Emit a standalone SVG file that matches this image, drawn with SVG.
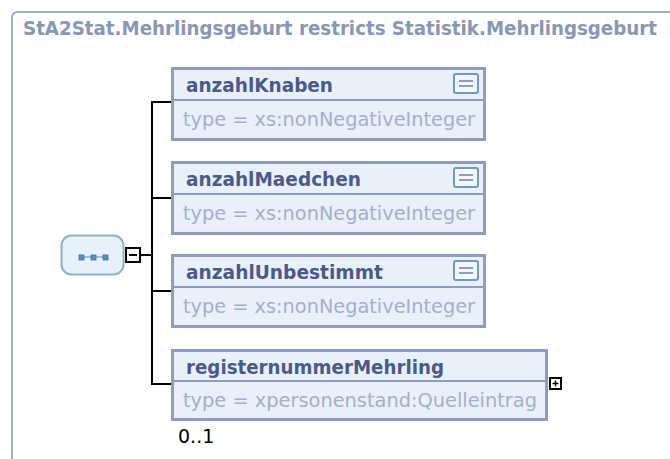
<svg xmlns="http://www.w3.org/2000/svg" width="670" height="459" viewBox="0 0 670 459">
<style>
.frame{fill:none;stroke:#a3afca;stroke-width:2}
.title{font-family:"DejaVu Sans","Liberation Sans",sans-serif;font-weight:bold;font-size:19px;fill:#8896b8}
.box{fill:#eaf0fa;stroke:#8e9dbf;stroke-width:3}
.div{stroke:#8e9dbf;stroke-width:2}
.name{font-family:"DejaVu Sans","Liberation Sans",sans-serif;font-weight:bold;font-size:19px;fill:#4b5a8c}
.type{font-family:"DejaVu Sans","Liberation Sans",sans-serif;font-size:20px;fill:#a3afce}
.conn{stroke:#000;stroke-width:2;fill:none}
.icon{fill:#f4f8fd;stroke:#6a9cc8;stroke-width:2}
.iline{stroke:#8a9fc0;stroke-width:2}
.occ{font-family:"DejaVu Sans","Liberation Sans",sans-serif;font-size:19px;fill:#000}
.tog{fill:#fff;stroke:#000;stroke-width:2}
</style>
<rect width="670" height="459" fill="#fff"/>
<path class="frame" d="M12 470 L12 18 Q12 12 18 12 L680 12"/>
<text class="title" x="23" y="35" textLength="634" lengthAdjust="spacingAndGlyphs">StA2Stat.Mehrlingsgeburt restricts Statistik.Mehrlingsgeburt</text>

<g id="connectors">
<line class="conn" x1="140" y1="255" x2="152" y2="255"/>
<path class="conn" d="M171 102 H152 V384 H171"/>
<line class="conn" x1="152" y1="198" x2="171" y2="198"/>
<line class="conn" x1="152" y1="291" x2="171" y2="291"/>
</g>

<g id="sequence">
<rect x="61.5" y="235.5" width="62" height="39" rx="10" fill="#e8f0fa" stroke="#8fb0cf" stroke-width="2"/>
<line x1="81" y1="257" x2="107" y2="257" stroke="#5b8fc0" stroke-width="1"/>
<rect x="79" y="255" width="5" height="5" fill="#5b8fc0" stroke="#3a6fa0" stroke-width="0.8"/>
<rect x="91" y="255" width="5" height="5" fill="#5b8fc0" stroke="#3a6fa0" stroke-width="0.8"/>
<rect x="103" y="255" width="5" height="5" fill="#5b8fc0" stroke="#3a6fa0" stroke-width="0.8"/>
<rect class="tog" x="126" y="248" width="14" height="14"/>
<line x1="129" y1="255" x2="137" y2="255" stroke="#000" stroke-width="2"/>
</g>

<g id="anzahlKnaben">
<rect class="box" x="172.5" y="68.5" width="312" height="71"/>
<line class="div" x1="174" y1="100" x2="483" y2="100"/>
<text class="name" x="186" y="92" textLength="147" lengthAdjust="spacingAndGlyphs">anzahlKnaben</text>
<text class="type" x="183" y="126" textLength="292" lengthAdjust="spacingAndGlyphs">type = xs:nonNegativeInteger</text>
<rect class="icon" x="454" y="74" width="24" height="19" rx="2"/>
<line class="iline" x1="459" y1="81" x2="473" y2="81"/>
<line class="iline" x1="459" y1="86" x2="473" y2="86"/>
</g>

<g id="anzahlMaedchen">
<rect class="box" x="172.5" y="162.5" width="312" height="71"/>
<line class="div" x1="174" y1="194" x2="483" y2="194"/>
<text class="name" x="186" y="186" textLength="175" lengthAdjust="spacingAndGlyphs">anzahlMaedchen</text>
<text class="type" x="183" y="220" textLength="292" lengthAdjust="spacingAndGlyphs">type = xs:nonNegativeInteger</text>
<rect class="icon" x="454" y="168" width="24" height="19" rx="2"/>
<line class="iline" x1="459" y1="175" x2="473" y2="175"/>
<line class="iline" x1="459" y1="180" x2="473" y2="180"/>
</g>

<g id="anzahlUnbestimmt">
<rect class="box" x="172.5" y="255.5" width="312" height="71"/>
<line class="div" x1="174" y1="287" x2="483" y2="287"/>
<text class="name" x="186" y="279" textLength="197" lengthAdjust="spacingAndGlyphs">anzahlUnbestimmt</text>
<text class="type" x="183" y="313" textLength="292" lengthAdjust="spacingAndGlyphs">type = xs:nonNegativeInteger</text>
<rect class="icon" x="454" y="261" width="24" height="19" rx="2"/>
<line class="iline" x1="459" y1="268" x2="473" y2="268"/>
<line class="iline" x1="459" y1="273" x2="473" y2="273"/>
</g>

<g id="registernummerMehrling">
<rect class="box" x="172.5" y="350.5" width="374" height="69"/>
<line class="div" x1="174" y1="381" x2="545" y2="381"/>
<text class="name" x="186" y="374" textLength="258" lengthAdjust="spacingAndGlyphs">registernummerMehrling</text>
<text class="type" x="183" y="407" textLength="354" lengthAdjust="spacingAndGlyphs">type = xpersonenstand:Quelleintrag</text>
<rect class="tog" x="550" y="378" width="11" height="11"/>
<line x1="552.5" y1="383.5" x2="558.5" y2="383.5" stroke="#000" stroke-width="1.5"/>
<line x1="555.5" y1="380.5" x2="555.5" y2="386.5" stroke="#000" stroke-width="1.5"/>
<text class="occ" x="178" y="443">0..1</text>
</g>
</svg>
